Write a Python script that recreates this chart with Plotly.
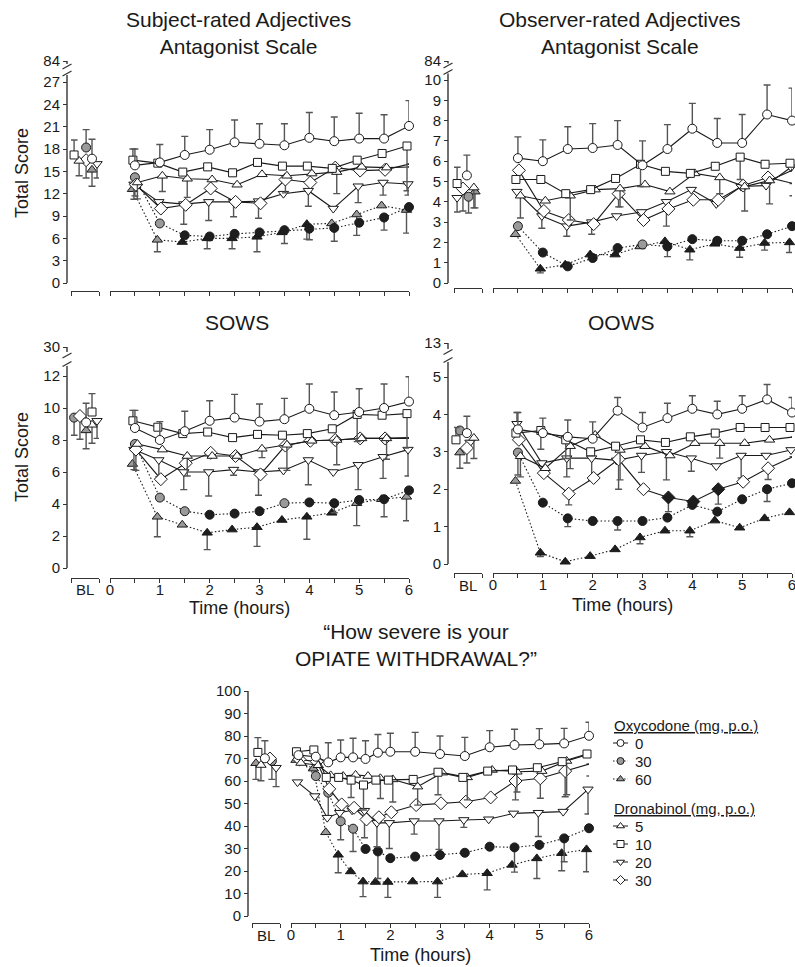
import plotly.graph_objects as go

W, H = 795, 967
FONT = "Liberation Sans, Arial, Helvetica, sans-serif"
INK = "#1a1a1a"
AX = "#333333"
ERRC = "#555555"
GRAY = "#9a9a9a"
BLACK = "#1e1e1e"

# ---------------- data ----------------
HALF_HOURS = [0.5, 1.0, 1.5, 2.0, 2.5, 3.0, 3.5, 4.0, 4.5, 5.0, 5.5, 6.0]
VAS_TIMES = [0.15, 0.5, 0.75, 1.0, 1.25, 1.5, 1.75, 2.0, 2.5, 3.0, 3.5, 4.0, 4.5, 5.0, 5.5, 6.0]
TIME_TICKS = [0, 0.5, 1, 1.5, 2, 2.5, 3, 3.5, 4, 4.5, 5, 5.5, 6]
TIME_LABELS = ["0", "", "1", "", "2", "", "3", "", "4", "", "5", "", "6"]
# each list: [BL, then time points]; *_ERR: signed SEM bar (+ up, - down); *_SIG: 1 = significant (black)

# Subject-rated Adjectives Antagonist Scale
SAAS_PLA = [16.7, 15.8, 16.2, 17.2, 17.9, 18.9, 18.7, 18.5, 19.5, 19.05, 19.4, 19.4, 21.1]
SAAS_PLA_ERR = [2.6, 2.2, 2.4, 2.5, 2.7, 3.0, 2.7, 2.9, 3.4, 3.25, 3.4, 3.2, 3.4]
SAAS_OXY30 = [18.2, 14.2, 8.0, 6.4, 6.25, 6.6, 6.8, 7.1, 7.3, 7.4, 8.1, 8.8, 10.2]
SAAS_OXY30_ERR = [2.4, -2.5, 0, 0, 0, 0, 0, -1.8, -1.5, -1.8, 0, -1.7, 0]
SAAS_OXY30_SIG = [0, 0, 0, 1, 1, 1, 1, 1, 1, 1, 1, 1, 1]
SAAS_OXY60 = [15.2, 12.6, 5.8, 5.5, 6.0, 6.0, 6.2, 6.8, 7.9, 8.0, 9.2, 10.4, 9.8]
SAAS_OXY60_ERR = [-2.2, 0, -1.6, 0, -1.4, -1.4, -2.0, 0, -2.0, 0, -2.8, 0, -3.1]
SAAS_OXY60_SIG = [0, 0, 0, 1, 1, 1, 1, 1, 1, 0, 0, 0, 0]
SAAS_DRO5 = [16.4, 13.5, 14.4, 14.0, 13.9, 13.2, 14.6, 14.4, 14.7, 14.9, 15.6, 15.5, 15.6]
SAAS_DRO5_ERR = [-2.0, -2.2, -2.1, -2.5, 0, 0, 0, 0, 0, -2.9, 0, 0, 0]
SAAS_DRO10 = [17.2, 16.5, 16.1, 14.9, 15.6, 14.8, 16.2, 15.7, 15.7, 15.4, 16.5, 17.4, 18.4]
SAAS_DRO10_ERR = [2.0, 1.5, 0, 0, 0, 0, 0, 0, 0, 0, 0, 0, -6.0]
SAAS_DRO20 = [16.0, 13.25, 10.9, 10.6, 10.9, 10.9, 11.0, 12.0, 12.4, 10.0, 13.0, 13.5, 13.3]
SAAS_DRO20_ERR = [-1.9, -2.0, 0, -2.7, -2.5, -2.0, -2.3, 0, -2.1, 0, -2.2, -1.7, -1.5]
SAAS_DRO30 = [16.5, 13.2, 10.0, 10.5, 12.7, 10.9, 10.7, 13.9, 13.5, 15.5, 15.1, 15.2, 16.0]
SAAS_DRO30_ERR = [-2.4, 0, 0, 0, 0, 0, 0, -1.8, 0, 0, 0, 0, 0]

# Observer-rated Adjectives Antagonist Scale
ORAS_PLA = [5.3, 6.15, 6.0, 6.6, 6.65, 6.8, 5.8, 6.6, 7.6, 6.9, 6.9, 8.3, 8.0]
ORAS_PLA_ERR = [1.0, 1.05, 1.05, 1.1, 1.2, 1.2, 1.2, 1.2, 1.25, 1.2, 1.4, 1.45, 1.6]
ORAS_OXY30 = [4.25, 2.8, 1.5, 0.82, 1.23, 1.72, 1.9, 1.8, 2.16, 2.08, 2.08, 2.4, 2.8]
ORAS_OXY30_ERR = [-0.8, 0, 0, 0, 0, 0, 0, -0.5, 0, 0, 0, 0, 0]
ORAS_OXY30_SIG = [0, 0, 1, 1, 1, 1, 0, 1, 1, 1, 1, 1, 1]
ORAS_OXY60 = [4.5, 2.4, 0.7, 0.9, 1.4, 1.4, 1.8, 2.05, 1.64, 1.93, 1.72, 1.97, 2.0]
ORAS_OXY60_ERR = [-0.8, 0, -0.2, 0, 0, 0, 0, 0, -0.5, 0, -0.45, -0.35, -0.5]
ORAS_OXY60_SIG = [0, 0, 1, 1, 1, 1, 0, 1, 1, 1, 1, 1, 1]
ORAS_DRO5 = [4.7, 4.3, 4.05, 4.3, 4.6, 4.65, 4.85, 4.5, 5.4, 5.2, 4.75, 5.05, 5.6]
ORAS_DRO5_ERR = [-1.0, -1.1, 0, -1.2, 0, -0.9, 0, 0, 0, -0.8, -1.2, -1.15, 0]
ORAS_DRO10 = [4.9, 5.1, 5.1, 4.4, 4.6, 5.15, 5.85, 5.5, 5.4, 5.75, 6.2, 5.85, 5.9]
ORAS_DRO10_ERR = [0.8, 0, 0, 0, 0, 0, -1.1, 0, 0, 0, -1.1, 0, 0]
ORAS_DRO20 = [4.2, 4.5, 3.3, 2.8, 3.0, 3.3, 3.5, 4.0, 4.6, 3.9, 4.75, 4.8, 5.7]
ORAS_DRO20_ERR = [-0.7, 0, -0.6, -0.5, -0.6, 0, 0, -1.2, 0, 0, 0, 0, 0]
ORAS_DRO30 = [4.65, 5.55, 3.55, 3.1, 2.9, 4.4, 3.1, 3.65, 4.1, 4.1, 4.8, 5.2, 4.9]
ORAS_DRO30_ERR = [-1.1, 0, 0, 0, 0, -0.65, 0, 0, 0, 0, 0, 0, -0.6]

# SOWS
SOWS_PLA = [9.1, 8.75, 8.0, 8.55, 9.2, 9.4, 9.15, 9.3, 9.95, 9.55, 9.75, 10.0, 10.4]
SOWS_PLA_ERR = [1.2, 1.1, 1.15, 1.25, 1.25, 1.45, 1.1, 1.3, 1.55, 1.45, 1.45, 1.5, 1.55]
SOWS_OXY30 = [9.4, 7.75, 4.4, 3.55, 3.33, 3.4, 3.55, 4.05, 4.1, 4.05, 4.25, 4.3, 4.85]
SOWS_OXY30_ERR = [-1.1, 0, 0, 0, 0, 0, 0, 0, 0, -0.6, 0, -1.1, 0]
SOWS_OXY30_SIG = [0, 0, 0, 0, 1, 1, 1, 0, 1, 1, 1, 1, 1]
SOWS_OXY60 = [8.6, 6.5, 3.2, 2.7, 2.2, 2.4, 2.55, 3.0, 3.2, 3.45, 4.05, 4.3, 4.45]
SOWS_OXY60_ERR = [-1.15, 0, -1.25, 0, -1.05, 0, -1.2, 0, -1.4, 0, -1.4, 0, -1.5]
SOWS_OXY60_SIG = [0, 0, 0, 0, 1, 1, 1, 1, 1, 1, 0, 0, 0]
SOWS_DRO5 = [8.95, 7.75, 7.4, 7.0, 7.0, 7.0, 7.45, 7.7, 7.95, 8.0, 8.1, 8.1, 8.1]
SOWS_DRO5_ERR = [-1.15, 0, 0, -1.25, 0, 0, -0.55, -1.6, 0, -1.55, 0, -1.3, 0]
SOWS_DRO10 = [9.75, 9.2, 8.8, 8.4, 8.5, 8.15, 8.35, 8.3, 8.4, 8.7, 9.6, 9.55, 9.65]
SOWS_DRO10_ERR = [1.15, 0.65, 0, 0, 0, 0, 0, 0, 0, 0, -1.7, 0, -2.15]
SOWS_DRO20 = [9.2, 7.4, 6.75, 6.0, 6.0, 6.15, 6.0, 6.1, 6.75, 6.0, 6.45, 6.95, 7.4]
SOWS_DRO20_ERR = [-1.1, -1.25, -1.05, -1.1, -1.5, -0.35, -1.45, 0, -1.55, 0, -1.55, -1.35, -1.65]
SOWS_DRO30 = [9.5, 7.4, 5.55, 6.55, 7.2, 7.0, 5.85, 7.65, 7.95, 8.0, 8.1, 8.1, 8.15]
SOWS_DRO30_ERR = [-1.45, -1.3, 0, 0, 0, 0, 0, 0, 0, 0, 0, 0, 0]

# OOWS
OOWS_PLA = [3.5, 3.6, 3.5, 3.4, 3.35, 4.1, 3.65, 3.9, 4.15, 4.0, 4.15, 4.4, 4.05]
OOWS_PLA_ERR = [0.45, 0.45, 0.4, 0.45, 0.45, 0.35, 0.4, 0.4, 0.35, 0.35, 0.35, 0.4, 0.4]
OOWS_OXY30 = [3.57, 2.98, 1.64, 1.22, 1.15, 1.15, 1.15, 1.24, 1.58, 1.4, 1.73, 2.0, 2.16]
OOWS_OXY30_ERR = [0, -0.6, 0, -0.22, 0, -0.24, 0, 0, 0, 0, 0, -0.33, 0]
OOWS_OXY30_SIG = [0, 0, 1, 1, 1, 1, 1, 1, 1, 1, 1, 1, 1]
OOWS_OXY60 = [2.98, 2.22, 0.3, 0.06, 0.21, 0.39, 0.71, 0.89, 0.89, 1.16, 0.97, 1.22, 1.38]
OOWS_OXY60_ERR = [-0.42, 0, -0.1, 0, 0, 0, -0.17, 0, -0.16, 0, 0, 0, 0]
OOWS_OXY60_SIG = [0, 0, 1, 1, 1, 1, 1, 1, 1, 1, 1, 1, 1]
OOWS_DRO5 = [3.37, 2.88, 2.56, 3.15, 3.45, 3.05, 3.15, 2.9, 3.23, 3.23, 3.23, 3.32, 3.4]
OOWS_DRO5_ERR = [-0.55, -0.55, 0, -0.6, 0, -0.8, 0, 0, 0, -0.4, 0, 0, 0]
OOWS_DRO10 = [3.32, 3.5, 3.57, 3.32, 3.0, 3.15, 3.32, 3.25, 3.4, 3.5, 3.65, 3.65, 3.65]
OOWS_DRO10_ERR = [0.33, 0, -0.5, -0.5, 0, 0, 0, 0, 0, 0, 0, 0, 0]
OOWS_DRO20 = [3.25, 3.75, 2.7, 2.83, 2.83, 2.77, 2.9, 3.0, 2.83, 2.62, 2.9, 2.9, 3.05]
OOWS_DRO20_ERR = [0, 0.3, 0, -0.5, -0.6, 0, -0.45, -0.75, -0.35, 0, -0.6, 0, 0]
OOWS_DRO30 = [3.1, 3.32, 2.43, 1.88, 2.3, 2.8, 2.0, 1.78, 1.67, 2.0, 2.2, 2.56, 2.87]
OOWS_DRO30_ERR = [-0.4, 0, 0, -0.3, 0, -0.8, 0, -0.38, 0, -0.4, 0, -0.3, 0]
OOWS_DRO30_SIG = [0, 0, 0, 0, 0, 0, 0, 1, 1, 1, 0, 0, 0]

# "How severe is your OPIATE WITHDRAWAL?"
VAS_PLA = [70.1, 71.5, 70.8, 68.3, 70.5, 70.5, 69.8, 72.6, 73.0, 73.0, 72.0, 71.1, 75.0, 76.0, 76.3, 76.7, 80.1]
VAS_PLA_ERR = [7.8, 0, 0, 8.7, 7.7, 8.5, 8.1, 8.1, 8.2, 8.6, 8.0, 8.3, 7.4, 7.0, 7.0, 6.7, 6.0]
VAS_OXY30 = [68.9, 70.1, 62.2, 54.8, 42.1, 38.8, 29.8, 28.7, 25.7, 26.4, 27.1, 28.1, 30.8, 30.5, 31.6, 34.5, 39.0]
VAS_OXY30_ERR = [-8.2, 0, 0, -10.5, -8.2, -10.1, 0, -12.0, 0, 0, 0, 0, 0, -11.0, 0, -10.4, 0]
VAS_OXY30_SIG = [0, 0, 0, 0, 0, 0, 1, 1, 1, 1, 1, 1, 1, 1, 1, 1, 1]
VAS_OXY60 = [67.9, 69.3, 65.5, 37.2, 27.2, 19.8, 15.3, 15.1, 15.1, 15.3, 15.3, 18.5, 19.0, 22.7, 25.6, 27.9, 29.6]
VAS_OXY60_ERR = [-7.2, 0, 0, 0, -8.0, 0, -6.7, 0, -6.8, 0, -7.0, 0, -7.4, 0, -8.9, -7.8, -9.9]
VAS_OXY60_SIG = [0, 0, 0, 0, 1, 1, 1, 1, 1, 1, 1, 1, 1, 1, 1, 1, 1]
VAS_DRO5 = [67.1, 68.0, 67.0, 62.5, 62.2, 62.7, 62.2, 61.2, 60.7, 57.5, 63.7, 61.6, 64.9, 64.1, 64.4, 68.9, 72.3]
VAS_DRO5_ERR = [-7.0, 0, 0, 0, 0, 0, 0, -9.0, -10.0, -8.2, 0, -10.0, 0, -9.0, 0, -15.0, 0]
VAS_DRO10 = [72.7, 73.0, 73.8, 61.6, 61.6, 60.4, 58.2, 60.4, 60.4, 60.7, 63.9, 61.6, 64.4, 64.9, 65.9, 68.6, 72.0]
VAS_DRO10_ERR = [6.6, 0, 0, 0, 0, -7.7, -11.1, 0, 0, 0, -10.0, 0, 0, 0, 0, 0, 0]
VAS_DRO20 = [65.9, 59.5, 53.3, 43.7, 45.9, 47.0, 46.8, 41.4, 41.4, 42.2, 42.2, 42.7, 43.0, 45.6, 45.9, 46.4, 56.3]
VAS_DRO20_ERR = [-8.4, 0, 0, 0, 0, 0, -12.0, -10.6, -11.4, -5.8, -12.6, -3.3, 0, 0, -10.6, 0, -11.0]
VAS_DRO30 = [70.0, 69.6, 68.6, 56.5, 49.6, 48.1, 42.9, 43.9, 46.1, 49.3, 50.1, 50.8, 52.7, 60.0, 61.2, 64.4, 67.6]
VAS_DRO30_ERR = [0, 0, 0, 0, 0, 0, 0, 0, 0, 0, 0, 0, 0, -8.4, -8.9, -11.4, -5.4]

LEGEND_OXY = [("PLA", "0"), ("OXY30", "30"), ("OXY60", "60")]
LEGEND_DRO = [("DRO5", "5"), ("DRO10", "10"), ("DRO20", "20"), ("DRO30", "30")]

# ---------------- styles ----------------
DOTS = "1.5px,2.2px"
STYLE = {
    "PLA":   dict(symbol="circle", size=9, dash="solid", fill="white"),
    "OXY30": dict(symbol="circle", size=9, dash=DOTS, fill="sig"),
    "OXY60": dict(symbol="triangle-up", size=9, dash=DOTS, fill="sig"),
    "DRO5":  dict(symbol="triangle-up", size=9, dash="solid", fill="white"),
    "DRO10": dict(symbol="square", size=8, dash="solid", fill="white"),
    "DRO20": dict(symbol="triangle-down", size=9, dash="solid", fill="white"),
    "DRO30": dict(symbol="diamond", size=10, dash="solid", fill="white"),
}
JITTER = {"PLA": 0.0, "OXY30": 0.0, "OXY60": -0.05, "DRO5": 0.05,
          "DRO10": -0.04, "DRO20": -0.02, "DRO30": 0.02}
DRAW_ORDER = ["OXY60", "OXY30", "DRO20", "DRO30", "DRO5", "DRO10", "PLA"]

def fx(p):
    return p / W

def fy(p):
    return 1 - p / H

PANELS = [
    dict(pre="SAAS", times=HALF_HOURS, yx=67, y0=283, ppu=(283 - 82) / 27, yticks=list(range(0, 28, 3)),
         top_label="84", top_px=61, xy=291, bl=(71, 99), tm=(110, 409), dom_top=50, labels=False,
         brk=(75, 73.5, 66.5, 64),
         blpos=dict(DRO10=0.11, DRO5=0.29, OXY30=0.54, DRO30=0.54, PLA=0.75, OXY60=0.75, DRO20=0.93)),
    dict(pre="ORAS", times=HALF_HOURS, yx=448, y0=283, ppu=(283 - 80) / 10, yticks=list(range(0, 11)),
         top_label="84", top_px=61, xy=288, bl=(454, 482), tm=(493, 792), dom_top=50, labels=False,
         brk=(73.5, 72, 65.5, 63.5),
         blpos=dict(DRO10=0.11, DRO20=0.11, DRO30=0.32, PLA=0.46, OXY30=0.52, DRO5=0.71, OXY60=0.75)),
    dict(pre="SOWS", times=HALF_HOURS, yx=67, y0=568, ppu=(568 - 376) / 12, yticks=list(range(0, 13, 2)),
         top_label="30", top_px=347, xy=578, bl=(71, 99), tm=(110, 409), dom_top=336, labels=True,
         brk=(366, 364, 355.5, 352),
         blpos=dict(OXY30=0.11, DRO30=0.32, PLA=0.54, OXY60=0.54, DRO10=0.75, DRO5=0.75, DRO20=0.93)),
    dict(pre="OOWS", times=HALF_HOURS, yx=448, y0=564, ppu=(564 - 377) / 5, yticks=list(range(0, 6)),
         top_label="13", top_px=343, xy=573, bl=(454, 482), tm=(493, 792), dom_top=332, labels=True,
         brk=(362, 360, 352, 349),
         blpos=dict(DRO10=0.07, OXY30=0.21, OXY60=0.21, PLA=0.46, DRO30=0.46, DRO20=0.57, DRO5=0.71)),
    dict(pre="VAS", times=VAS_TIMES, yx=248, y0=916, ppu=(916 - 691) / 100, yticks=list(range(0, 101, 10)),
         top_label=None, top_px=None, xy=923, bl=(252, 280), tm=(291, 589), dom_top=680, labels=True,
         brk=None,
         blpos=dict(OXY60=0.14, DRO10=0.21, DRO5=0.32, PLA=0.46, DRO30=0.64, OXY30=0.71, DRO20=0.86)),
]

def xid(n):
    return "x" if n == 1 else f"x{n}"

def yid(n):
    return "y" if n == 1 else f"y{n}"

def xkey(n):
    return "xaxis" if n == 1 else f"xaxis{n}"

def ykey(n):
    return "yaxis" if n == 1 else f"yaxis{n}"

fig = go.Figure()
layout = dict(width=W, height=H, margin=dict(l=0, r=0, t=0, b=0), paper_bgcolor="white",
              plot_bgcolor="rgba(0,0,0,0)", showlegend=False, template="none",
              font=dict(family=FONT, color=INK))
shapes = []
annotations = []

def vline(x, ya, yb):
    shapes.append(dict(type="line", xref="paper", yref="paper", x0=fx(x), x1=fx(x), y0=fy(ya), y1=fy(yb),
                       line=dict(color=AX, width=1.4)))

def seg(xa, ya, xb, yb, color=AX, width=1.3):
    shapes.append(dict(type="line", xref="paper", yref="paper", x0=fx(xa), x1=fx(xb), y0=fy(ya), y1=fy(yb),
                       line=dict(color=color, width=width)))

def text(x, y, s, size, xanchor="center", angle=0):
    annotations.append(dict(x=fx(x), y=fy(y), xref="paper", yref="paper", text=s, showarrow=False,
                            xanchor=xanchor, yanchor="middle", textangle=angle,
                            font=dict(size=size, family=FONT, color=INK)))

g = globals()
for i, P in enumerate(PANELS):
    yn, xb, xt = i + 1, 2 * i + 1, 2 * i + 2
    ppu = P["ppu"]
    rng = [(P["y0"] - P["xy"]) / ppu, (P["y0"] - P["dom_top"]) / ppu]
    tv = list(P["yticks"])
    tt = [str(v) for v in tv]
    if P["top_label"]:
        tv.append((P["y0"] - P["top_px"]) / ppu)
        tt.append(P["top_label"])
    layout[ykey(yn)] = dict(domain=[fy(P["xy"]), fy(P["dom_top"])], range=rng, anchor="free",
                            position=fx(P["yx"]), showline=False, showgrid=False, zeroline=False,
                            ticks="outside", ticklen=4, tickwidth=1.3, tickcolor=AX, tickvals=tv,
                            ticktext=tt, tickfont=dict(size=15, family=FONT, color=INK),
                            automargin=False, fixedrange=True, ticklabeloverflow="allow")
    layout[xkey(xb)] = dict(domain=[fx(P["bl"][0]), fx(P["bl"][1])], range=[0, 1], anchor="free",
                            position=fy(P["xy"]), showline=True, linecolor=AX, linewidth=1.4,
                            showgrid=False, zeroline=False, ticks="outside", ticklen=4, tickwidth=1.3,
                            tickcolor=AX, tickvals=[0, 1], ticktext=["", ""], automargin=False,
                            fixedrange=True)
    layout[xkey(xt)] = dict(domain=[fx(P["tm"][0]), fx(P["tm"][1])], range=[0, 6], anchor="free",
                            position=fy(P["xy"]), showline=True, linecolor=AX, linewidth=1.4,
                            showgrid=False, zeroline=False, ticks="outside", ticklen=4, tickwidth=1.3,
                            tickcolor=AX, tickvals=TIME_TICKS,
                            ticktext=TIME_LABELS if P["labels"] else [""] * len(TIME_TICKS),
                            tickfont=dict(size=15, family=FONT, color=INK), automargin=False,
                            fixedrange=True, ticklabeloverflow="allow", ticklabelstandoff=-6)
    # broken y axis line
    if P["brk"]:
        low_top, s1, s2, up_bot = P["brk"]
        vline(P["yx"], P["y0"], low_top)
        for c in (s1, s2):
            seg(P["yx"] - 4.5, c + 2.5, P["yx"] + 4.5, c - 2.5)
        vline(P["yx"], up_bot, P["top_px"])
    else:
        vline(P["yx"], P["y0"], P["y0"] - 100 * ppu)

    for key in DRAW_ORDER:
        st = STYLE[key]
        vals = g[f"{P['pre']}_{key}"]
        errs = g[f"{P['pre']}_{key}_ERR"]
        sig = g.get(f"{P['pre']}_{key}_SIG")
        if sig is not None:
            fills = [BLACK if s else (GRAY if st["fill"] == "sig" else "white") for s in sig]
        else:
            fills = ["white"] * len(vals)
        plus = [max(e, 0) for e in errs]
        minus = [max(-e, 0) for e in errs]
        # baseline point
        fig.add_trace(go.Scatter(
            x=[P["blpos"][key]], y=vals[:1], xaxis=xid(xb), yaxis=yid(yn), mode="markers",
            cliponaxis=False, hoverinfo="skip",
            marker=dict(symbol=st["symbol"], size=st["size"], color=fills[:1],
                        line=dict(color=INK, width=1)),
            error_y=dict(type="data", symmetric=False, array=plus[:1], arrayminus=minus[:1],
                         color=ERRC, thickness=1.4, width=3.5)))
        # time course
        tx = [t + JITTER[key] for t in P["times"]]
        fig.add_trace(go.Scatter(
            x=tx, y=vals[1:], xaxis=xid(xt), yaxis=yid(yn), mode="lines+markers",
            cliponaxis=False, hoverinfo="skip",
            line=dict(color=INK, width=1.1, dash=st["dash"]),
            marker=dict(symbol=st["symbol"], size=st["size"], color=fills[1:],
                        line=dict(color=INK, width=1)),
            error_y=dict(type="data", symmetric=False, array=plus[1:], arrayminus=minus[1:],
                         color=ERRC, thickness=1.4, width=3.5)))

# ---------------- text ----------------
text(238, 33, "Subject-rated Adjectives<br>Antagonist Scale", 21)
text(620, 33, "Observer-rated Adjectives<br>Antagonist Scale", 21)
text(237, 322, "SOWS", 21)
text(621, 322, "OOWS", 21)
text(416, 645, "\u201cHow severe is your<br>OPIATE WITHDRAWAL?\u201d", 21)
text(22, 173, "Total Score", 18, angle=-90)
text(22, 457, "Total Score", 18, angle=-90)
text(85, 589, "BL", 15)
text(468, 585, "BL", 15)
text(266, 935, "BL", 15)
text(239, 608, "Time (hours)", 18)
text(622, 605, "Time (hours)", 18)
text(420, 955, "Time (hours)", 18)

# ---------------- legend (pixel-space overlay axis) ----------------
layout["xaxis11"] = dict(domain=[0, 1], range=[0, W], visible=False, fixedrange=True, anchor="y6")
layout["yaxis6"] = dict(domain=[0, 1], range=[H, 0], visible=False, fixedrange=True, anchor="x11")

def legend_block(title, items, y_title):
    text(612, y_title, f"<u>{title}</u>", 15, xanchor="left")
    for j, (key, lab) in enumerate(items):
        yc = y_title + 18 * (j + 1)
        st = STYLE[key]
        fill = GRAY if st["fill"] == "sig" else "white"
        fig.add_trace(go.Scatter(x=[613, 628], y=[yc, yc], xaxis="x11", yaxis="y6", mode="lines",
                                 line=dict(color=INK, width=1, dash=st["dash"]), hoverinfo="skip"))
        fig.add_trace(go.Scatter(x=[620.5], y=[yc], xaxis="x11", yaxis="y6", mode="markers",
                                 marker=dict(symbol=st["symbol"], size=7, color=fill,
                                             line=dict(color=INK, width=1)), hoverinfo="skip"))
        text(633, yc, lab, 15, xanchor="left")

legend_block("Oxycodone (mg, p.o.)", LEGEND_OXY, 725)
legend_block("Dronabinol (mg, p.o.)", LEGEND_DRO, 808)

layout["shapes"] = shapes
layout["annotations"] = annotations
fig.update_layout(**layout)
fig.write_html("out.html", config={"displayModeBar": False},
               post_script="document.body.style.margin='0';document.body.style.overflow='hidden';")
